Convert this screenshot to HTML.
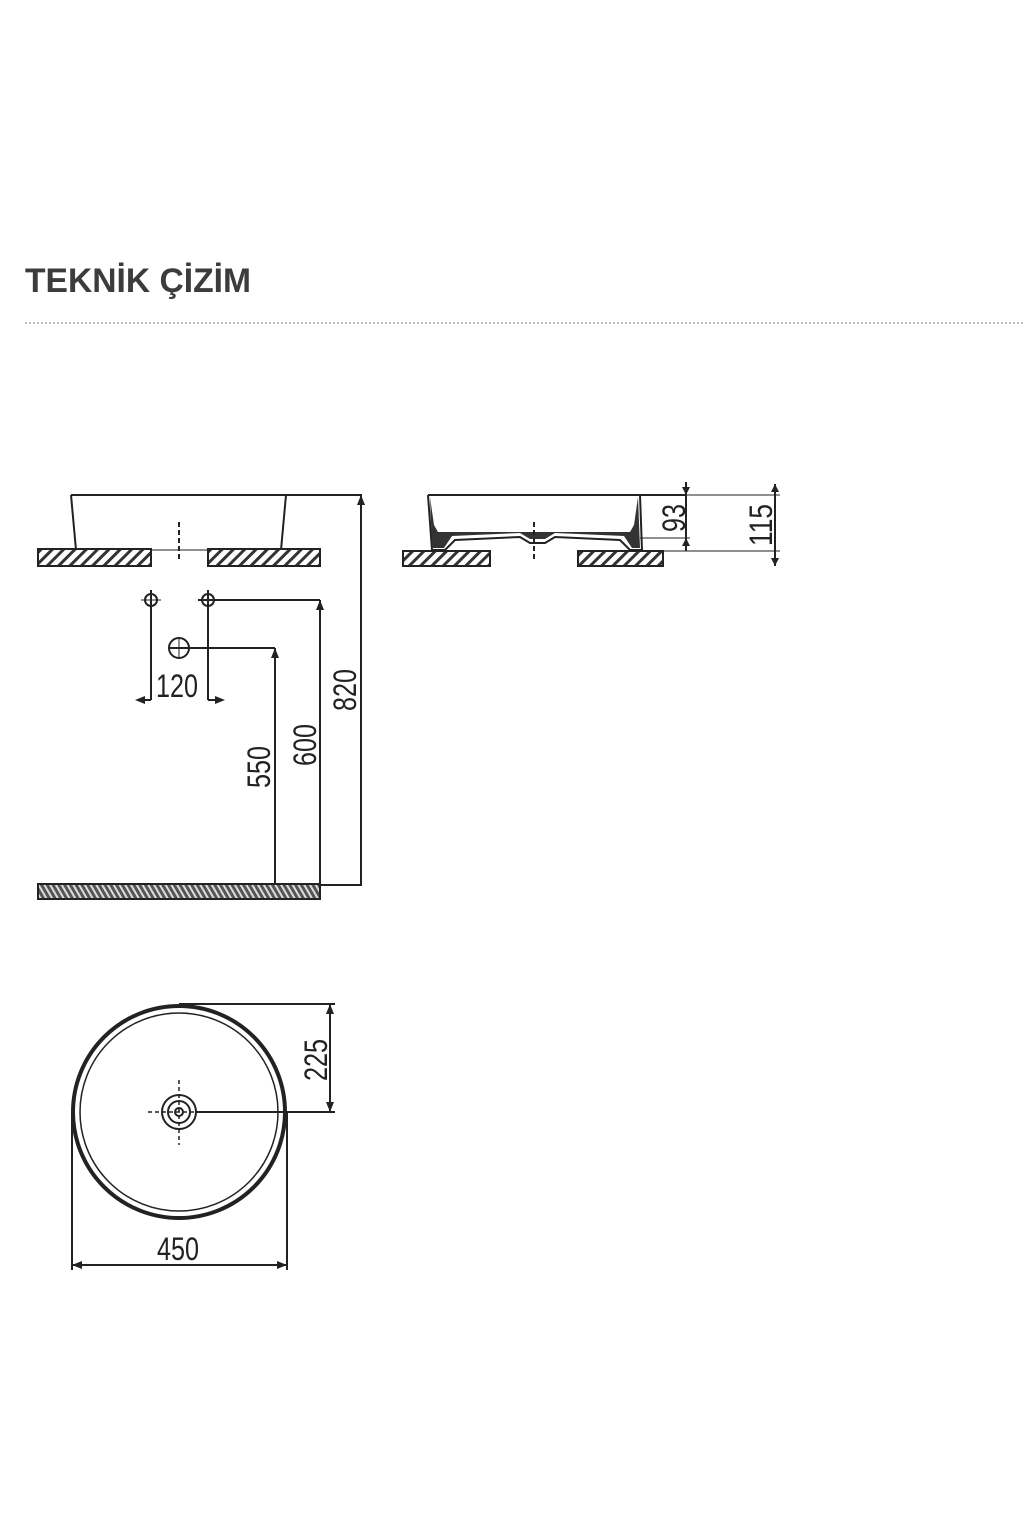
<!DOCTYPE html>
<html><head><meta charset="utf-8"><style>
html,body{margin:0;padding:0;background:#fff;}
svg{display:block;}
text{font-family:"Liberation Sans",sans-serif;fill:#222;}
</style></head><body>
<svg width="1024" height="1536" viewBox="0 0 1024 1536" xmlns="http://www.w3.org/2000/svg">
<defs>
<pattern id="h" width="8" height="8" patternUnits="userSpaceOnUse" patternTransform="rotate(45)">
<rect width="8" height="8" fill="#fff"/><rect width="3" height="8" fill="#333"/></pattern>
<pattern id="h2" width="5" height="5" patternUnits="userSpaceOnUse" patternTransform="rotate(-30)">
<rect width="5" height="5" fill="#555"/><rect width="2" height="5" fill="#ddd"/></pattern>
</defs>
<text x="25" y="292" font-size="34" font-weight="bold" style="fill:#3c3c3c" textLength="226" lengthAdjust="spacingAndGlyphs">TEKNİK ÇİZİM</text>
<line x1="25" y1="323" x2="1024" y2="323" stroke="#aaa" stroke-width="1.5" stroke-dasharray="2,2"/>
<g stroke="#222" stroke-width="2" fill="none">
<line x1="71" y1="495" x2="362" y2="495"/>
<line x1="71" y1="495" x2="76" y2="550"/>
<line x1="286" y1="495" x2="281" y2="550"/>
<line x1="76" y1="550" x2="281" y2="550" stroke-width="1"/>
<rect x="38" y="549" width="113" height="17" fill="url(#h)"/>
<rect x="208" y="549" width="112" height="17" fill="url(#h)"/>
<line x1="179" y1="522" x2="179" y2="560" stroke-dasharray="5,3"/>
<line x1="361" y1="495" x2="361" y2="885"/>
<circle cx="151" cy="600" r="6"/><circle cx="208" cy="600" r="6"/>
<line x1="141" y1="600" x2="161" y2="600" stroke-width="1"/><line x1="151" y1="590" x2="151" y2="700"/>
<line x1="198" y1="600" x2="320" y2="600"/><line x1="208" y1="590" x2="208" y2="700"/>
<line x1="138" y1="700" x2="151" y2="700"/><line x1="208" y1="700" x2="222" y2="700"/>
<line x1="320" y1="600" x2="320" y2="885"/>
<circle cx="179" cy="648" r="10"/>
<line x1="169" y1="648" x2="275" y2="648"/><line x1="179" y1="638" x2="179" y2="658" stroke-width="1"/>
<line x1="275" y1="648" x2="275" y2="885"/>
<rect x="38" y="884" width="282" height="15" fill="url(#h2)"/>
<line x1="320" y1="885" x2="362" y2="885"/>
<!-- side view -->
<line x1="428" y1="495" x2="686" y2="495"/>
<path d="M428 495 L432 550 L445 550 L455 540 L520 537 L530 543 L545 543 L555 537 L620 540 L630 550 L642 550 L640 495" stroke-width="2"/>
<path d="M430 497 L432 548 L444 548 L452 536 L520 533 L530 539 L545 539 L555 533 L624 536 L632 548 L640 548 L638 497 L634 525 L630 532 L438 532 L434 525 Z" fill="#333" stroke="none"/>
<rect x="403" y="551" width="87" height="15" fill="url(#h)"/>
<rect x="578" y="551" width="85" height="15" fill="url(#h)"/>
<line x1="534" y1="522" x2="534" y2="560" stroke-dasharray="5,3"/>
<line x1="640" y1="538" x2="690" y2="538" stroke-width="1"/>
<line x1="642" y1="551" x2="780" y2="551" stroke-width="1"/>
<line x1="686" y1="482" x2="686" y2="551"/>
<line x1="686" y1="495" x2="780" y2="495" stroke-width="1"/>
<line x1="775" y1="484" x2="775" y2="566"/>
<!-- plan -->
<circle cx="179" cy="1112" r="106" stroke-width="4"/>
<circle cx="179" cy="1112" r="99" stroke-width="1.5"/>
<circle cx="179" cy="1112" r="17"/><circle cx="179" cy="1112" r="11"/><circle cx="179" cy="1112" r="4"/>
<line x1="148" y1="1112" x2="335" y2="1112" stroke-dasharray="4,3" stroke-width="1.5"/>
<line x1="196" y1="1112" x2="335" y2="1112"/>
<line x1="179" y1="1080" x2="179" y2="1145" stroke-dasharray="4,3" stroke-width="1.5"/>
<line x1="179" y1="1004" x2="335" y2="1004"/>
<line x1="330" y1="1004" x2="330" y2="1112"/>
<line x1="72" y1="1112" x2="72" y2="1270"/>
<line x1="287" y1="1112" x2="287" y2="1270"/>
<line x1="72" y1="1265" x2="287" y2="1265"/>
</g>
<g fill="#222">
<path d="M361 495 l-4 10 h8z"/>
<path d="M320 600 l-4 10 h8z"/><path d="M275 648 l-4 10 h8z"/>
<path d="M135 700 l10 -4 v8z"/><path d="M225 700 l-10 -4 v8z"/>
<path d="M686 495 l-4 -8 h8z"/><path d="M686 538 l-4 8 h8z"/>
<path d="M775 484 l-4 8 h8z"/><path d="M775 566 l-4 -8 h8z"/>
<path d="M330 1004 l-4 10 h8z"/><path d="M330 1112 l-4 -10 h8z"/>
<path d="M72 1265 l10 -4 v8z"/><path d="M287 1265 l-10 -4 v8z"/>
</g>
<g font-size="32">
<text x="156" y="697" textLength="42" lengthAdjust="spacingAndGlyphs">120</text>
<text x="157" y="1260" textLength="42" lengthAdjust="spacingAndGlyphs">450</text>
<text transform="translate(356,711) rotate(-90)" textLength="42" lengthAdjust="spacingAndGlyphs">820</text>
<text transform="translate(316,766) rotate(-90)" textLength="42" lengthAdjust="spacingAndGlyphs">600</text>
<text transform="translate(270,788) rotate(-90)" textLength="42" lengthAdjust="spacingAndGlyphs">550</text>
<text transform="translate(327,1081) rotate(-90)" textLength="42" lengthAdjust="spacingAndGlyphs">225</text>
<text transform="translate(685,532) rotate(-90)" textLength="28" lengthAdjust="spacingAndGlyphs">93</text>
<text transform="translate(772,546) rotate(-90)" textLength="42" lengthAdjust="spacingAndGlyphs">115</text>
</g>
</svg>
</body></html>
